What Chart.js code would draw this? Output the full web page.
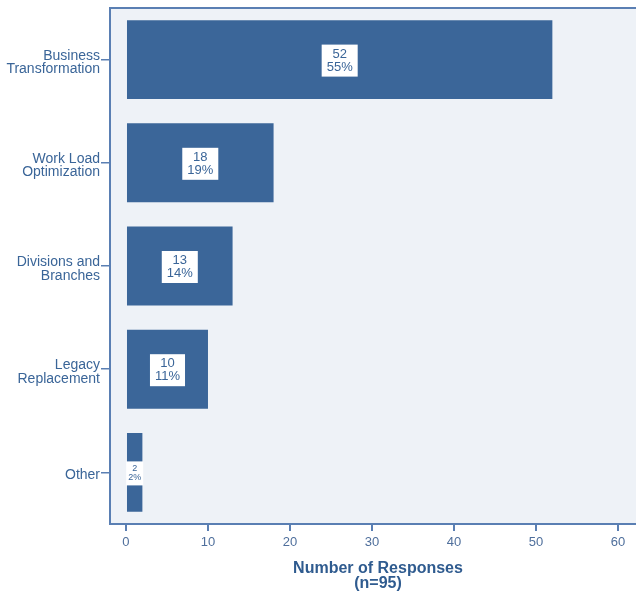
<!DOCTYPE html>
<html>
<head>
<meta charset="utf-8">
<script src="https://cdn.jsdelivr.net/npm/chart.js@4/dist/chart.umd.min.js"></script>
<style>
  html, body { margin: 0; padding: 0; background: #fff; }
  #wrap { width: 636px; height: 593px; }
</style>
</head>
<body>
<div id="wrap"><canvas id="responses" width="636" height="593"></canvas></div>
<script>
// Survey data
const categories = [['Business', 'Transformation'], ['Work Load', 'Optimization'], ['Divisions and', 'Branches'], ['Legacy', 'Replacement'], ['Other']];
const counts = [52, 18, 13, 10, 2];
const percents = [55, 19, 14, 11, 2];
const xTicks = [0, 10, 20, 30, 40, 50, 60];
const axisTitle = ['Number of Responses', '(n=95)'];

const barColor = '#3B6699';
const lineColor = '#5A7FB3';
const textColor = '#3A6598';
const fontFamily = '"Liberation Sans", Arial, sans-serif';

// Plot panel fill and top border
const panelPlugin = {
    id: 'panel',
    beforeDraw(chart) {
        const { ctx, chartArea: a } = chart;
        ctx.save();
        ctx.fillStyle = '#EEF2F7';
        ctx.fillRect(a.left, a.top, a.right - a.left, a.bottom - a.top);
        ctx.strokeStyle = lineColor;
        ctx.lineWidth = 2;
        ctx.beginPath();
        ctx.moveTo(a.left, a.top);
        ctx.lineTo(a.right, a.top);
        ctx.stroke();
        ctx.restore();
    }
};

// White boxes with count and percent inside each bar
const boxLabels = {
    id: 'boxLabels',
    afterDatasetsDraw(chart) {
        const { ctx } = chart;
        const meta = chart.getDatasetMeta(0);
        ctx.save();
        meta.data.forEach((bar, i) => {
            const lines = [String(counts[i]), percents[i] + '%'];
            const barW = bar.x - bar.base;
            const small = barW < 30;
            const size = small ? 9 : 13;
            ctx.font = size + 'px ' + fontFamily;
            const tw = Math.max(...lines.map(l => ctx.measureText(l).width));
            const w = tw + (small ? 4 : 10);
            const h = size * 2 + 6;
            const cx = (bar.x + bar.base) / 2;
            const cy = bar.y + 1;
            ctx.fillStyle = '#fff';
            ctx.fillRect(cx - w / 2, cy - h / 2, w, h);
            ctx.fillStyle = textColor;
            ctx.textAlign = 'center';
            ctx.textBaseline = 'middle';
            ctx.fillText(lines[0], cx, cy - size / 2);
            ctx.fillText(lines[1], cx, cy + size / 2);
        });
        ctx.restore();
    }
};

// Two-line bold title under the x axis
const titlePlugin = {
    id: 'xTitle',
    afterDraw(chart) {
        const { ctx } = chart;
        ctx.save();
        ctx.fillStyle = '#2F5B8F';
        ctx.font = 'bold 16px ' + fontFamily;
        ctx.textAlign = 'center';
        ctx.textBaseline = 'alphabetic';
        ctx.fillText(axisTitle[0], 378, 573);
        ctx.fillText(axisTitle[1], 378, 588);
        ctx.restore();
    }
};

new Chart(document.getElementById('responses'), {
    type: 'bar',
    data: {
        labels: categories,
        datasets: [{
            data: counts,
            backgroundColor: barColor,
            borderWidth: 0,
            categoryPercentage: 1,
            barPercentage: 0.765
        }]
    },
    options: {
        indexAxis: 'y',
        responsive: false,
        animation: false,
        layout: { padding: { top: 8, right: 0, left: 0, bottom: 0 } },
        plugins: {
            legend: { display: false },
            tooltip: { enabled: false }
        },
        scales: {
            x: {
                min: -1.95,
                max: 62.2,
                afterBuildTicks: (scale) => { scale.ticks = xTicks.map(v => ({ value: v })); },
                afterFit: (scale) => { scale.height = 69; },
                grid: { drawOnChartArea: false, color: lineColor, lineWidth: 2, tickLength: 7 },
                border: { color: lineColor, width: 2 },
                ticks: {
                    color: '#4F6F9C',
                    font: { family: fontFamily, size: 13 },
                    padding: 4
                }
            },
            y: {
                afterFit: (scale) => { scale.width = 110; },
                grid: { offset: false, drawOnChartArea: false, color: lineColor, lineWidth: 1.5, tickLength: 9 },
                border: { color: lineColor, width: 2 },
                ticks: {
                    color: textColor,
                    font: { family: fontFamily, size: 14, lineHeight: 0.95 },
                    padding: 1,
                    labelOffset: 3
                }
            }
        }
    },
    plugins: [panelPlugin, boxLabels, titlePlugin]
});
</script>
</body>
</html>
